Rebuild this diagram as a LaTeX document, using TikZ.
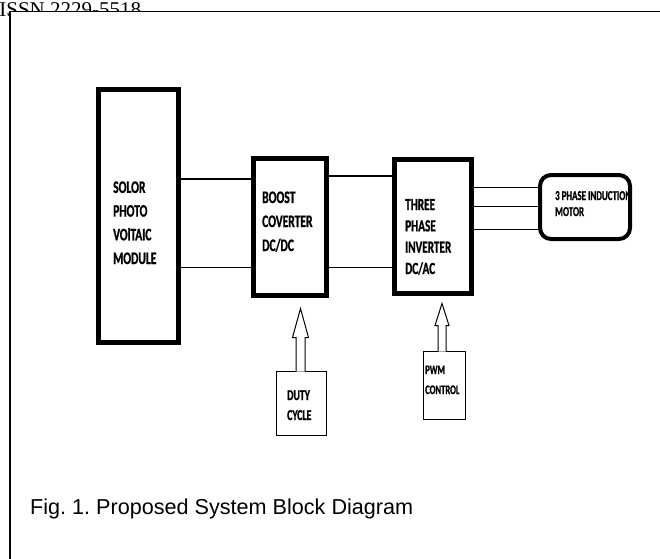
\documentclass[tikz,border=0pt]{standalone}
\usepackage{fontspec}
\setmainfont{Liberation Sans}
\newfontfamily\serifiss{Liberation Serif}
\newfontfamily\blk{Carlito}[FakeStretch=0.66, UprightFont=* Bold, FakeBold=1]
\frenchspacing
\begin{document}
\begin{tikzpicture}[x=1pt,y=-1pt,
  thickbox/.style={draw, line width=5pt, inner sep=0pt, outer sep=0pt},
  thinbox/.style={draw, line width=1pt, inner sep=0pt, outer sep=0pt},
  motorbox/.style={draw, line width=4pt, rounded corners=11pt, inner sep=0pt, outer sep=0pt},
  conn/.style={line width=1.3pt},
  blockarrow/.style={draw, line width=1pt, fill=white, line join=miter},
  lbl/.style={inner sep=0pt, anchor=base west, align=left, text=black}]
\useasboundingbox (0,0) rectangle (660,558);
\clip (0,0) rectangle (660,558);
% header text, partly hidden by the frame
\node[inner sep=0pt, anchor=base west, font=\serifiss\fontsize{21}{25}\selectfont] (issn) at (-0.8,16) {ISSN 2229-5518};
\fill[white] (10,11.5) rectangle (661,559);
\draw[line width=1.6pt] (661,11.5) -- (10,11.5) -- (10,560);
% blocks
\node[thickbox, minimum width=80pt, minimum height=253pt] (pv) at (138.5,216) {};
\node[thickbox, minimum width=73pt, minimum height=137pt] (boost) at (290,227) {};
\node[thickbox, minimum width=77pt, minimum height=134pt] (inv) at (433,226.5) {};
\node[motorbox, minimum width=90pt, minimum height=64pt] (motor) at (585,207) {};
\node[thinbox, minimum width=50pt, minimum height=64pt] (duty) at (301.5,403.5) {};
\node[thinbox, minimum width=42pt, minimum height=68pt] (pwm) at (444.5,385.5) {};
% texts (anchored at the baseline of the last line)
\node[lbl, font=\blk\fontsize{17.5}{23.7}\selectfont] (pvtxt) at (113,264) {SOLOR\\PHOTO\\VOlTAIC\\MODULE};
\node[lbl, font=\blk\fontsize{17.5}{24}\selectfont] (boosttxt) at (262,251) {BOOST\\COVERTER\\DC/DC};
\node[lbl, font=\blk\fontsize{17}{21.3}\selectfont] (invtxt) at (405,274) {THREE\\PHASE\\INVERTER\\DC/AC};
\node[lbl, font=\blk\fontsize{13.5}{16}\selectfont] (motortxt) at (555,216) {3 PHASE INDUCTION\\MOTOR};
\node[lbl, font=\blk\fontsize{15}{20}\selectfont] (dutytxt) at (287,420) {DUTY\\CYCLE};
\node[lbl, font=\blk\fontsize{13}{20}\selectfont] (pwmtxt) at (425,394) {PWM\\CONTROL};
% caption
\node[inner sep=0pt, anchor=base west, font=\fontsize{21.6}{26}\selectfont] (caption) at (30,514) {Fig. 1. Proposed System Block Diagram};
% connectors
\draw[conn] (pv.east |- 0,179) -- (boost.west |- 0,179);
\draw[conn] (pv.east |- 0,267.7) -- (boost.west |- 0,267.7);
\draw[conn] (boost.east |- 0,176) -- (inv.west |- 0,176);
\draw[conn] (boost.east |- 0,267.5) -- (inv.west |- 0,267.5);
\draw[conn] (inv.east |- 0,187.7) -- (motor.west |- 0,187.7);
\draw[conn] (inv.east |- 0,206.7) -- (motor.west |- 0,206.7);
\draw[conn] (inv.east |- 0,229.3) -- (motor.west |- 0,229.3);
% hollow block arrows
\draw[blockarrow] ([xshift=-5.5pt]duty.north) -- ++(0,-34) -- ++(-3.5,0) -- ++(8,-29) -- ++(8,29) -- ++(-3.5,0) -- ++(0,34);
\draw[blockarrow] ([xshift=-6.5pt]pwm.north) -- ++(0,-26) -- ++(-3,0) -- ++(7,-22) -- ++(7,22) -- ++(-3,0) -- ++(0,26);
\end{tikzpicture}
\end{document}
